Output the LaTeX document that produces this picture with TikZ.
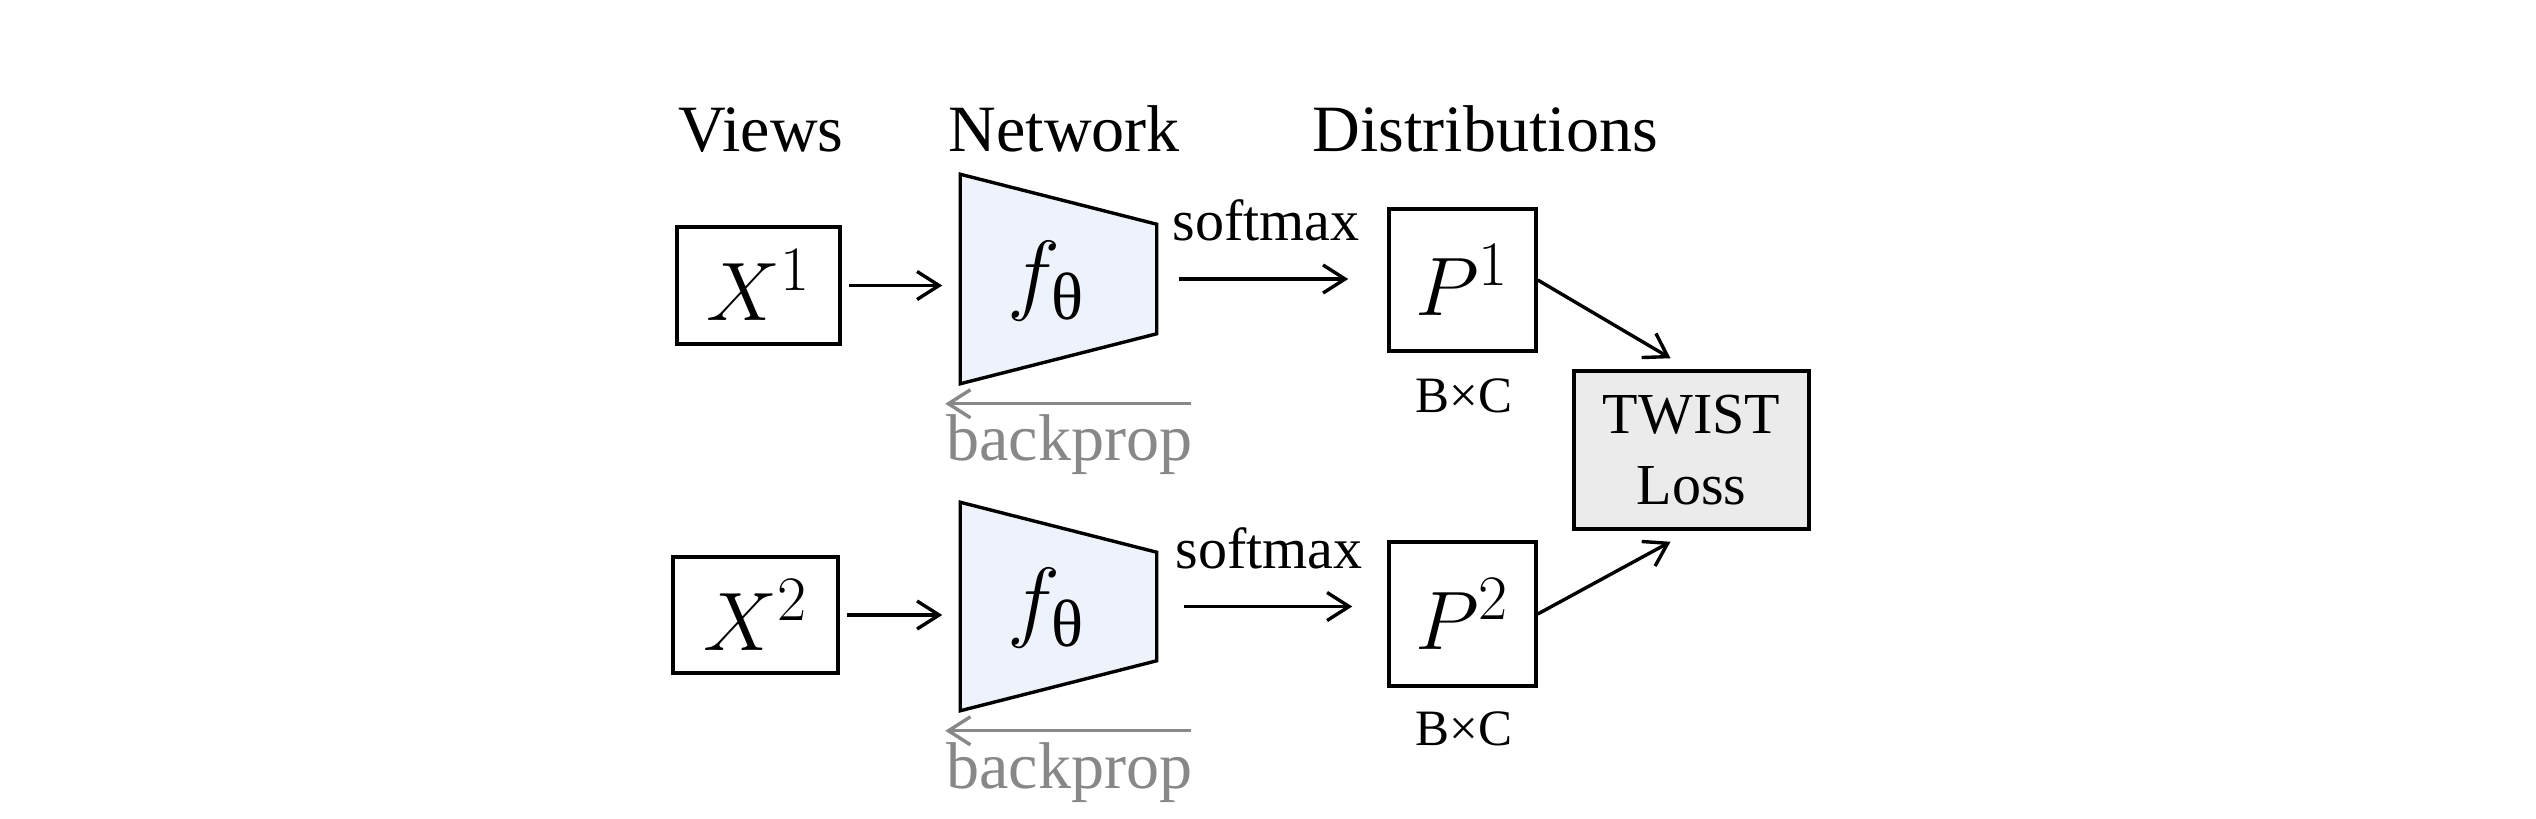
\documentclass[tikz,border=0pt]{standalone}
\usepackage{fix-cm}
\usepackage{amsmath}
\usepackage{fontspec}
\setmainfont{Liberation Serif}
\usetikzlibrary{arrows.meta,calc}
\DeclareMathSizes{23.6}{23.6}{18}{14}
\DeclareMathSizes{25.5}{25.5}{19}{15}
\definecolor{netfill}{HTML}{EEF2FA}
\definecolor{lossfill}{HTML}{EBEBEB}
\definecolor{bpgray}{HTML}{888888}
\begin{document}
\begin{tikzpicture}[x=0.01cm,y=-0.01cm,
  lw/.style={line width=0.034cm},
  arr/.style={lw,-{Straight Barb[length=0.22cm,width=0.28cm]}},
  bparr/.style={arr,draw=bpgray},
  hdr/.style={font=\fontsize{18.8}{22}\selectfont,inner sep=0pt},
  smtxt/.style={font=\fontsize{16.5}{20}\selectfont,inner sep=0pt},
  bctxt/.style={font=\fontsize{14.5}{17}\selectfont,inner sep=0pt},
  mathtxt/.style={font=\fontsize{25.5}{30}\selectfont,inner sep=0pt},
  vbox/.style={draw,lw,inner sep=0pt,font=\fontsize{23.6}{28}\selectfont},
  netshape/.style={lw,fill=netfill},
  lossbox/.style={draw,lw,fill=lossfill,align=center,inner sep=0pt,font=\fontsize{16.5}{20.4}\selectfont}
]
\fill[white] (0,0) rectangle (2536,818);
\path[use as bounding box] (0,0) rectangle (2536,818);

% headers
\node[hdr,anchor=base west] (hv) at (678,151) {Views};
\node[hdr,anchor=base west] (hn) at (948,151) {Network};
\node[hdr,anchor=base west] (hd) at (1312,151) {Distributions};

% views
\node[vbox,minimum width=1.63cm,minimum height=1.17cm] (x1) at (758.5,285.5) {$X^{1}$};
\node[vbox,minimum width=1.65cm,minimum height=1.16cm] (x2) at (755.5,615) {$X^{2}$};

% networks
\node[minimum width=1.95cm,minimum height=2.08cm,inner sep=0pt] (f1) at (1058.5,279) {};
\draw[netshape] (f1.north west) -- ($(f1.north east)+(0,50)$) -- ($(f1.south east)+(0,-50)$) -- (f1.south west) -- cycle;
\node[mathtxt] (f1t) at ($(f1)+(-12,2)$) {$f_{\text{θ}}$};

\node[minimum width=1.95cm,minimum height=2.07cm,inner sep=0pt] (f2) at (1058.5,606.5) {};
\draw[netshape] (f2.north west) -- ($(f2.north east)+(0,50)$) -- ($(f2.south east)+(0,-50)$) -- (f2.south west) -- cycle;
\node[mathtxt] (f2t) at ($(f2)+(-12,2)$) {$f_{\text{θ}}$};

% distributions
\node[vbox,minimum width=1.47cm,minimum height=1.42cm] (p1) at (1462.5,280) {$P^{1}$};
\node[vbox,minimum width=1.47cm,minimum height=1.44cm] (p2) at (1462.5,614) {$P^{2}$};
\node[bctxt,anchor=base] (bc1) at (1464,412) {B×C};
\node[bctxt,anchor=base] (bc2) at (1464,745) {B×C};

% loss
\node[lossbox,minimum width=2.35cm,minimum height=1.58cm] (loss) at (1691.5,450) {TWIST\\Loss};

% view -> network
\draw[arr,shorten <=0.07cm,shorten >=0.18cm] (x1.east) -- (x1.east -| f1.west);
\draw[arr,shorten <=0.07cm,shorten >=0.18cm] (x2.east) -- (x2.east -| f2.west);

% softmax arrows
\draw[arr,shorten <=0.22cm,shorten >=0.39cm] (f1.east) -- (f1.east -| p1.west)
  node[smtxt,midway,anchor=base,yshift=0.38cm,xshift=-0.06cm] (sm1) {softmax};
\draw[arr,shorten <=0.27cm,shorten >=0.35cm] (f2.east) -- (f2.east -| p2.west)
  node[smtxt,midway,anchor=base,yshift=0.38cm,xshift=-0.03cm] (sm2) {softmax};

% to loss
\coordinate (l1) at ($(loss.north)+(-21,-11)$);
\coordinate (l2) at ($(loss.south)+(-21,11)$);
\draw[arr] (p1.east) -- (l1);
\draw[arr] (p2.east) -- (l2);

% backprop
\coordinate (bp1a) at ($(f1.south east)+(34,20)$);
\coordinate (bp1b) at ($(f1.south west)+(-15,20)$);
\draw[bparr] (bp1a) -- (bp1b);
\node[hdr,text=bpgray,anchor=base] (bpt1) at (1069.5,460) {backprop};

\coordinate (bp2a) at ($(f2.south east)+(34,20)$);
\coordinate (bp2b) at ($(f2.south west)+(-15,20)$);
\draw[bparr] (bp2a) -- (bp2b);
\node[hdr,text=bpgray,anchor=base] (bpt2) at (1069.5,788) {backprop};
\end{tikzpicture}
\end{document}
